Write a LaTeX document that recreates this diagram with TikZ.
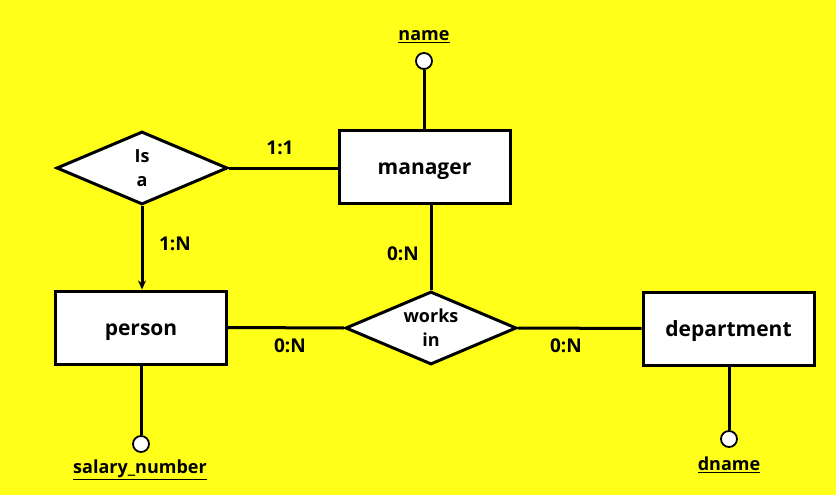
\documentclass[tikz,border=0pt]{standalone}
\usepackage{fontspec}
\setmainfont{Open Sans}
\usetikzlibrary{shapes.geometric,arrows.meta}
\definecolor{bg}{RGB}{255,255,26}
\newcommand{\entitytext}[1]{\raisebox{-7.5pt}[0pt][0pt]{#1}}
\begin{document}
\begin{tikzpicture}[x=1pt,y=-1pt,
  every node/.style={font=\bfseries},
  entity/.style={draw,line width=3pt,fill=white,minimum width=171pt,minimum height=73pt,inner sep=0pt,font=\bfseries\fontsize{21}{24}\selectfont},
  rel/.style={draw,line width=3pt,fill=white,diamond,aspect=2.35,minimum width=171pt,minimum height=73pt,inner sep=0pt,align=center,font=\bfseries\fontsize{18}{24}\selectfont},
  attr/.style={circle,draw,line width=1.8pt,fill=white,minimum size=16pt,inner sep=0pt},
  attrlabel/.style={font=\bfseries\fontsize{18}{20}\selectfont,inner sep=1pt},
  card/.style={font=\bfseries\fontsize{19}{22}\selectfont},
  link/.style={line width=3pt}]
\useasboundingbox (0,0) rectangle (836,495);
\fill[bg] (0,0) rectangle (836,495);

% entities and relationships
\node[rel] (isa) at (142,168) {Is\\a};
\node[entity] (manager) at (424.5,166.5) {\entitytext{manager}};
\node[entity] (person) at (141,327.5) {\entitytext{person}};
\node[rel] (works) at (431,328) {works\\in};
\node[entity] (dept) at (728.5,328.5) {\entitytext{department}};

% key attributes
\node[attr] (nameA) at (424,61) {};
\node[attrlabel] (nameL) at (424,37) {\underline{name}};
\node[attr] (salA) at (141,444) {};
\node[attrlabel] (salL) at (140,470) {\underline{salary\_number}};
\node[attr] (dnA) at (729,439) {};
\node[attrlabel] (dnL) at (729,465) {\underline{dname}};

% relationship links
\draw[link] (isa.east) -- (manager.west |- isa.east);
\draw[link,-{Stealth[length=9pt,width=8pt]}] (isa.south) -- (person.north -| isa.south);
\draw[link] (works.north) -- (manager.south -| works.north);
\draw[link] (person.east) -- (works.west);
\draw[link] (works.east) -- (dept.west);

% attribute links
\draw[link] (nameA.south) -- (nameA.south |- manager.north);
\draw[link] (person.south) -- (salA.north);
\draw[link] (dept.south -| dnA.north) -- (dnA.north);

% cardinalities
\node[card] (c1) at (280,148) {1:1};
\node[card] (c2) at (175,244) {1:N};
\node[card] (c3) at (403,254) {0:N};
\node[card] (c4) at (290,346) {0:N};
\node[card] (c5) at (566,346) {0:N};
\end{tikzpicture}
\end{document}
